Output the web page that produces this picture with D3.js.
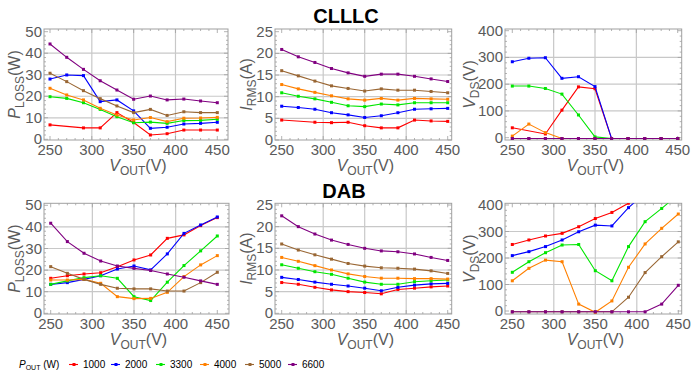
<!DOCTYPE html>
<html><head><meta charset="utf-8">
<script src="https://cdn.jsdelivr.net/npm/d3@7"></script>
<style>body{margin:0;background:#fff;} svg{display:block;font-family:"Liberation Sans",Arial,sans-serif;}</style>
</head><body><svg id="c" width="700" height="378"></svg>
<script>
// ---------- DATA ----------
const vout = [250, 270, 290, 310, 330, 350, 370, 390, 410, 430, 450];
const seriesLabels = ["1000", "2000", "3300", "4000", "5000", "6600"];
const seriesColors = ["#ff0000", "#0000ff", "#00e600", "#ff8000", "#996633", "#800080"];

// CLLLC P_LOSS (W) rows: 1000,2000,3300,4000,5000,6600
const clllcPloss = [
  [6.7, null, 5.3, 5.3, 12.4, 7.8, 2.0, 2.6, 4.3, 4.3, 4.3],
  [28.0, 29.9, 29.6, 17.5, 18.3, 13.2, 5.1, 5.6, 7.1, 7.4, 7.9],
  [19.8, 19.0, 17.0, 13.9, 10.5, 7.7, 8.0, 7.4, 8.7, 8.8, 9.3],
  [23.7, 20.6, 18.3, 14.4, 11.3, 9.0, 10.1, 8.2, 9.8, 9.9, 10.2],
  [30.7, 26.8, 22.6, 18.9, 15.5, 12.4, 13.9, 11.1, 12.8, 12.4, 12.4],
  [44.3, 38.1, 32.5, 27.2, 22.9, 18.6, 20.1, 18.3, 18.7, 17.8, 17.0]
];
// CLLLC I_RMS (A)
const clllcIrms = [
  [4.6, null, 4.1, 4.0, 4.1, 3.3, 2.8, 2.8, 4.6, 4.4, 4.3],
  [7.8, 7.5, 7.1, 6.3, 5.8, 5.2, 5.6, 6.3, 7.1, 7.2, 7.3],
  [10.9, 10.1, 9.5, 8.7, 7.9, 7.7, 8.3, 8.1, 8.6, 8.6, 8.6],
  [12.8, 11.8, 11.0, 10.2, 9.5, 9.2, 9.6, 9.2, 9.6, 9.5, 9.4],
  [16.0, 14.8, 13.6, 12.5, 11.9, 11.3, 11.8, 11.5, 11.5, 11.2, 10.9],
  [20.9, 19.2, 17.9, 16.5, 15.5, 14.7, 15.2, 15.2, 14.7, 14.1, 13.5]
];
// CLLLC V_DS (V)
const clllcVds = [
  [37, null, 14, 103, 190, 183, -3, -3, -3, -3, -3],
  [284, 297, 299, 222, 228, 191, -3, -3, -3, -3, -3],
  [193, 193, 184, 163, 85, 3, -3, -3, -3, -3, -3],
  [6, 51, 19, -3, -3, -3, -3, -3, -3, -3, -3],
  [-3, -3, -3, -3, -3, -3, -3, -3, -3, -3, -3],
  [-3, -3, -3, -3, -3, -3, -3, -3, -3, -3, -3]
];
// DAB P_LOSS (W)
const dabPloss = [
  [16.2, 17.4, 18.2, 18.8, 21.6, 24.7, 27.0, 34.7, 36.3, 40.6, 44.3],
  [13.4, 14.2, 15.7, 17.4, 20.5, 21.9, 20.1, 27.5, 37.0, 40.9, 44.6],
  [13.4, 15.0, 16.5, 17.4, 16.2, 7.7, 5.9, 14.4, 22.1, 28.9, 35.8],
  [15.4, 15.4, 15.7, 13.9, 7.7, 6.8, 6.9, 9.7, 17.0, 22.4, 26.7],
  [21.6, 18.5, 15.7, 13.4, 11.6, 11.3, 11.3, 10.3, 10.3, 14.2, 19.0],
  [41.7, 33.2, 27.8, 24.2, 21.9, 20.8, 19.8, 18.2, 16.7, 15.0, 13.4]
];
// DAB I_RMS (A)
const dabIrms = [
  [7.1, 6.7, 6.0, 5.4, 5.0, 4.8, 4.5, 5.5, 5.8, 6.1, 6.3],
  [8.3, 7.8, 7.2, 6.7, 6.3, 5.8, 5.2, 6.0, 6.5, 6.8, 6.9],
  [11.2, 10.4, 9.6, 9.0, 8.1, 7.2, 6.7, 6.7, 7.3, 7.5, 7.7],
  [12.9, 12.0, 11.0, 10.0, 9.1, 8.5, 8.1, 8.1, 8.0, 8.0, 7.9],
  [16.0, 14.6, 13.5, 12.5, 11.5, 10.9, 10.5, 10.4, 10.2, 9.8, 9.2],
  [22.5, 20.0, 18.3, 16.9, 15.9, 15.0, 14.4, 14.2, 13.7, 12.9, 12.2]
];
// DAB V_DS (V)
const dabVds = [
  [251, 268, 283, 293, 318, 349, 372, 407, 440, 470, 500],
  [209, 224, 243, 268, 299, 324, 321, 390, 445, 480, 510],
  [146, 186, 220, 249, 251, 152, 114, 243, 337, 387, 440],
  [114, 161, 192, 186, 26, -5, 38, 165, 253, 312, 366],
  [-3, -3, -3, -3, -3, -3, -3, 52, 145, 205, 261],
  [-3, -3, -3, -3, -3, -3, -3, -3, -3, 26, 97]
];
const xTicks = [250, 300, 350, 400, 450];
const plossTicks = [0, 10, 20, 30, 40, 50];
const irmsTicks = [0, 5, 10, 15, 20, 25];
const vdsTicks = [0, 100, 200, 300, 400];

// ---------- LAYOUT ----------
const svg = d3.select("#c");
const GRID = "#c8c8c8", FRAME = "#a0a0a0", TXT = "#5a5a5a";

const panels = [
  {data: clllcPloss, yt: plossTicks, ydom: [0, 50], frame: [44, 228, 29, 140], xr: [50, 217.3], yr: [139.3, 31.7], sym: "P", sub: "LOSS", unit: "(W)", ylx: 15},
  {data: clllcIrms, yt: irmsTicks, ydom: [0, 25], frame: [275, 451.7, 29, 140], xr: [281.7, 447.7], yr: [140, 31.7], sym: "I", sub: "RMS", unit: "(A)", ylx: 247},
  {data: clllcVds, yt: vdsTicks, ydom: [0, 400], frame: [505, 681.7, 29, 140], xr: [512.3, 677.7], yr: [137.7, 30.7], sym: "V", sub: "DS", unit: "(V)", ylx: 470},
  {data: dabPloss, yt: plossTicks, ydom: [0, 50], frame: [44, 229, 203.3, 314], xr: [50.7, 217.3], yr: [313.3, 205.3], sym: "P", sub: "LOSS", unit: "(W)", ylx: 15},
  {data: dabIrms, yt: irmsTicks, ydom: [0, 25], frame: [275, 451.7, 203.3, 314], xr: [281.7, 447.7], yr: [313.3, 205], sym: "I", sub: "RMS", unit: "(A)", ylx: 247},
  {data: dabVds, yt: vdsTicks, ydom: [0, 400], frame: [505, 681.7, 203.3, 314], xr: [512.3, 678.3], yr: [311, 205], sym: "V", sub: "DS", unit: "(V)", ylx: 470}
];

function labelText(sel, sym, sub, unit, size) {
  sel.append("tspan").attr("font-style", "italic").text(sym);
  sel.append("tspan").attr("font-size", size * 0.75).attr("dy", size * 0.22).text(sub);
  sel.append("tspan").attr("dy", -size * 0.22).text(unit);
}

panels.forEach((p, pi) => {
  const [fl, fr, ft, fb] = p.frame;
  const x = d3.scaleLinear().domain([250, 450]).range(p.xr);
  const y = d3.scaleLinear().domain(p.ydom).range(p.yr);
  const g = svg.append("g");
  const clipId = "clip" + pi;
  svg.append("clipPath").attr("id", clipId).append("rect")
    .attr("x", fl).attr("y", ft).attr("width", fr - fl).attr("height", fb - ft);

  // grid lines
  g.selectAll(".gx").data(xTicks.filter(t => t > 250 && t < 450)).join("line")
    .attr("x1", d => x(d)).attr("x2", d => x(d)).attr("y1", ft).attr("y2", fb)
    .attr("stroke", GRID).attr("stroke-width", 1.2);
  g.selectAll(".gy").data(p.yt.filter(t => t > p.ydom[0] && t < p.ydom[1])).join("line")
    .attr("y1", d => y(d)).attr("y2", d => y(d)).attr("x1", fl).attr("x2", fr)
    .attr("stroke", GRID).attr("stroke-width", 1.2);

  // frame
  g.append("rect").attr("x", fl).attr("y", ft).attr("width", fr - fl).attr("height", fb - ft)
    .attr("fill", "none").attr("stroke", FRAME).attr("stroke-width", 1);

  // ticks (inward)
  const xMinor = d3.range(250, 451, 10);
  g.selectAll(".tx").data(xMinor).join("line")
    .attr("x1", d => x(d)).attr("x2", d => x(d))
    .attr("y1", fb).attr("y2", d => fb - (d % 50 === 0 ? 4 : 2))
    .attr("stroke", FRAME).attr("stroke-width", 0.8);
  g.selectAll(".tx2").data(xMinor).join("line")
    .attr("x1", d => x(d)).attr("x2", d => x(d))
    .attr("y1", ft).attr("y2", d => ft + (d % 50 === 0 ? 4 : 2))
    .attr("stroke", FRAME).attr("stroke-width", 0.8);
  const majorY = p.yt[1] - p.yt[0];
  const yMinor = d3.range(p.ydom[0], p.ydom[1] + 0.001, majorY / 5);
  g.selectAll(".ty").data(yMinor).join("line")
    .attr("y1", d => y(d)).attr("y2", d => y(d))
    .attr("x1", fl).attr("x2", (d, i) => fl + (i % 5 === 0 ? 4 : 2))
    .attr("stroke", FRAME).attr("stroke-width", 0.8);
  g.selectAll(".ty2").data(yMinor).join("line")
    .attr("y1", d => y(d)).attr("y2", d => y(d))
    .attr("x1", fr).attr("x2", (d, i) => fr - (i % 5 === 0 ? 4 : 2))
    .attr("stroke", FRAME).attr("stroke-width", 0.8);

  // tick labels
  g.selectAll(".xl").data(xTicks).join("text")
    .attr("x", d => x(d)).attr("y", fb + 15).attr("text-anchor", "middle")
    .attr("font-size", 15).attr("fill", TXT).text(d => d);
  g.selectAll(".yl").data(p.yt).join("text")
    .attr("x", fl - 2).attr("y", d => y(d) + 5).attr("text-anchor", "end")
    .attr("font-size", 15).attr("fill", TXT).text(d => d);

  // axis labels
  const xl = g.append("text").attr("x", (fl + fr) / 2 + 2).attr("y", fb + 31)
    .attr("text-anchor", "middle").attr("font-size", 16).attr("fill", TXT);
  labelText(xl, "V", "OUT", "(V)", 16);
  const yl = g.append("text").attr("transform", `translate(${p.ylx + 5},${(ft + fb) / 2}) rotate(-90)`)
    .attr("text-anchor", "middle").attr("font-size", 16).attr("fill", TXT);
  labelText(yl, p.sym, p.sub, p.unit, 16);

  // series
  const line = d3.line().x(d => x(d[0])).y(d => y(d[1]));
  const sg = g.append("g").attr("clip-path", `url(#${clipId})`);
  p.data.forEach((row, si) => {
    const pts = vout.map((v, i) => [v, row[i]]).filter(d => d[1] !== null);
    sg.append("path").attr("d", line(pts)).attr("fill", "none")
      .attr("stroke", seriesColors[si]).attr("stroke-width", 1.1);
    sg.selectAll(null).data(pts).join("rect")
      .attr("x", d => x(d[0]) - 1.5).attr("y", d => y(d[1]) - 1.5)
      .attr("width", 3).attr("height", 3).attr("fill", seriesColors[si]);
  });
});

// titles
svg.append("text").attr("x", 346).attr("y", 23).attr("text-anchor", "middle")
  .attr("font-size", 20).attr("font-weight", "bold").attr("fill", "#000").text("CLLLC");
svg.append("text").attr("x", 344).attr("y", 198).attr("text-anchor", "middle")
  .attr("font-size", 20).attr("font-weight", "bold").attr("fill", "#000").text("DAB");

// legend
const lg = svg.append("g");
const lt = lg.append("text").attr("x", 19).attr("y", 368).attr("font-size", 10).attr("fill", "#000");
lt.append("tspan").attr("font-style", "italic").text("P");
lt.append("tspan").attr("font-size", 7).attr("dy", 2).text("OUT");
lt.append("tspan").attr("dy", -2).text(" (W)");
const legX = [69, 111, 156, 200, 245, 288];
seriesLabels.forEach((s, i) => {
  const gx = legX[i];
  lg.append("line").attr("x1", gx).attr("x2", gx + 9).attr("y1", 364.5).attr("y2", 364.5)
    .attr("stroke", seriesColors[i]).attr("stroke-width", 1.1);
  lg.append("rect").attr("x", gx + 3.5).attr("y", 363).attr("width", 3).attr("height", 3).attr("fill", seriesColors[i]);
  lg.append("text").attr("x", gx + 14).attr("y", 368).attr("font-size", 10).attr("fill", "#000").text(s);
});
</script></body></html>
